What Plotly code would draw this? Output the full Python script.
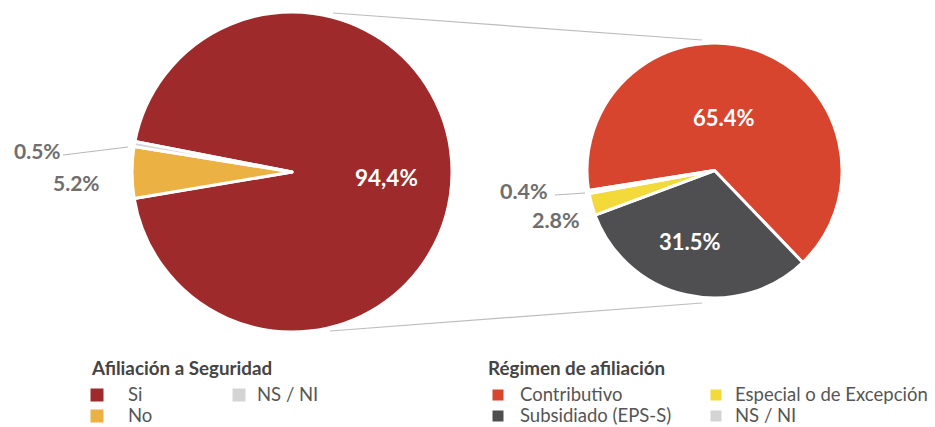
import plotly.graph_objects as go

W, H = 935, 427

# ---- data ----
seg_title = "Afiliación a Seguridad"
seg_labels = ["Si", "No", "NS / NI"]
seg_values = [94.4, 5.2, 0.5]
seg_text = ["94,4%", "5.2%", "0.5%"]
seg_colors = ["#9E2A2B", "#EBB142", "#D4D4D4"]

reg_title = "Régimen de afiliación"
reg_labels = ["Contributivo", "Subsidiado (EPS-S)", "Especial o de Excepción", "NS / NI"]
reg_values = [65.4, 31.5, 2.8, 0.4]
reg_text = ["65.4%", "31.5%", "2.8%", "0.4%"]
reg_colors = ["#D8452F", "#4F4F51", "#F4D93A", "#D4D4D4"]

FONT = "Lato"
GREY_TXT = "#6E6E6E"


def px(x):
    return x / W


def py(y):
    return 1 - y / H


fig = go.Figure()

# left pie: centre (292,172), r 160
fig.add_trace(go.Pie(
    labels=seg_labels, values=seg_values, sort=False,
    direction="clockwise", rotation=281,
    marker=dict(colors=seg_colors, line=dict(color="white", width=3)),
    textinfo="none", hoverinfo="label+percent", showlegend=False,
    domain=dict(x=[px(132), px(452)], y=[py(332), py(12)]),
))

# right pie: centre (714.5,170.5), r 127.5
fig.add_trace(go.Pie(
    labels=reg_labels, values=reg_values, sort=False,
    direction="clockwise", rotation=261,
    marker=dict(colors=reg_colors, line=dict(color="white", width=3)),
    textinfo="none", hoverinfo="label+percent", showlegend=False,
    domain=dict(x=[px(587), px(842)], y=[py(298), py(43)]),
))

annotations = []
shapes = []


def label(text, x, y, color, size=21, xanchor="center"):
    annotations.append(dict(
        text=f"<b>{text}</b>", x=px(x), y=py(y), xref="paper", yref="paper",
        showarrow=False, xanchor=xanchor, yanchor="middle",
        font=dict(family=FONT, size=size, color=color)))


# value labels
label(seg_text[0], 386, 177, "white", 22.5)
label(seg_text[1], 76, 182, GREY_TXT)
label(seg_text[2], 37, 151, GREY_TXT)
label(reg_text[0], 724, 118, "white", 22)
label(reg_text[1], 690, 242, "white", 22)
label(reg_text[2], 556, 220, GREY_TXT, 21.5)
label(reg_text[3], 524, 191, GREY_TXT, 21.5)


def line(x0, y0, x1, y1, color="#BDBDBD", width=1.2):
    shapes.append(dict(type="line", xref="paper", yref="paper",
                       x0=px(x0), y0=py(y0), x1=px(x1), y1=py(y1),
                       line=dict(color=color, width=width)))


# connectors between pies
line(333, 13, 702, 40)
line(330, 331, 702, 303)
# small label leaders
line(63, 155, 128, 147, "#B8B8B8", 1)
line(555, 195, 585, 193, "#B8B8B8", 1)


# legends (drawn manually, 2 rows, filled column-wise)
def legend(title, x_title, labels, colors, col_x, text_dx, sq=12):
    annotations.append(dict(
        text=f"<b>{title}</b>", x=px(x_title), y=py(367), xref="paper", yref="paper",
        showarrow=False, xanchor="left", yanchor="middle",
        font=dict(family=FONT, size=18.8, color="#444444")))
    rows = [395, 416]
    for i, (lab, col) in enumerate(zip(labels, colors)):
        c = i // 2
        cx = col_x[c]
        cy = rows[i % 2]
        shapes.append(dict(type="rect", xref="paper", yref="paper",
                           x0=px(cx - sq / 2), x1=px(cx + sq / 2),
                           y0=py(cy + sq / 2), y1=py(cy - sq / 2),
                           fillcolor=col, line=dict(width=0)))
        annotations.append(dict(
            text=lab, x=px(cx + text_dx[c]), y=py(cy - 1), xref="paper", yref="paper",
            showarrow=False, xanchor="left", yanchor="middle",
            font=dict(family=FONT, size=18.5, color="#555555")))


legend(seg_title, 89, seg_labels, seg_colors, [97, 239], [29, 16], 13)
legend(reg_title, 486, reg_labels, reg_colors, [498, 716], [20, 17], 11)

fig.update_layout(
    width=W, height=H,
    margin=dict(l=0, r=0, t=0, b=0),
    paper_bgcolor="white", plot_bgcolor="white",
    annotations=annotations, shapes=shapes,
    font=dict(family=FONT),
)

fig.write_html("out.html", config={"displayModeBar": False},
               post_script="document.body.style.margin='0';")
